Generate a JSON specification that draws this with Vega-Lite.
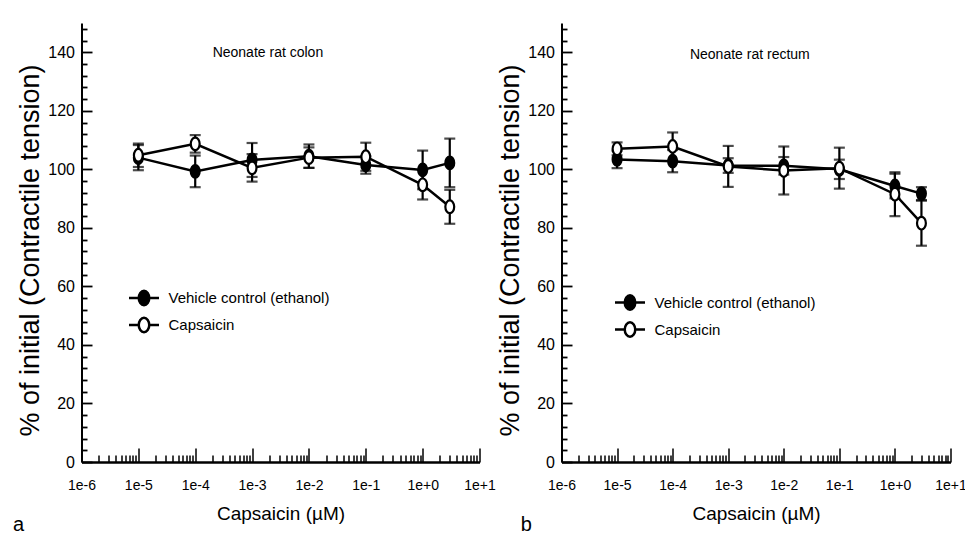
{
  "$schema": "https://vega.github.io/schema/vega-lite/v6.json",
  "background": "white",
  "padding": {"left": 12.5, "top": 20, "right": 5, "bottom": 0},
  "datasets": {
    "colon": [
      {"conc": 1e-5, "series": "Vehicle control (ethanol)", "mean": 104.0, "err": 4.3},
      {"conc": 1e-4, "series": "Vehicle control (ethanol)", "mean": 99.3, "err": 5.4},
      {"conc": 1e-3, "series": "Vehicle control (ethanol)", "mean": 103.2, "err": 5.8},
      {"conc": 1e-2, "series": "Vehicle control (ethanol)", "mean": 104.5, "err": 4.0},
      {"conc": 1e-1, "series": "Vehicle control (ethanol)", "mean": 101.5, "err": 3.0},
      {"conc": 1, "series": "Vehicle control (ethanol)", "mean": 99.8, "err": 6.6},
      {"conc": 3, "series": "Vehicle control (ethanol)", "mean": 102.2, "err": 8.3},
      {"conc": 1e-5, "series": "Capsaicin", "mean": 104.8, "err": 4.0},
      {"conc": 1e-4, "series": "Capsaicin", "mean": 108.7, "err": 3.0},
      {"conc": 1e-3, "series": "Capsaicin", "mean": 100.5, "err": 4.7},
      {"conc": 1e-2, "series": "Capsaicin", "mean": 104.0, "err": 3.5},
      {"conc": 1e-1, "series": "Capsaicin", "mean": 104.3, "err": 4.8},
      {"conc": 1, "series": "Capsaicin", "mean": 94.7, "err": 5.0},
      {"conc": 3, "series": "Capsaicin", "mean": 87.2, "err": 5.8}
    ],
    "rectum": [
      {"conc": 1e-5, "series": "Vehicle control (ethanol)", "mean": 103.4, "err": 3.0},
      {"conc": 1e-4, "series": "Vehicle control (ethanol)", "mean": 102.8, "err": 3.8},
      {"conc": 1e-3, "series": "Vehicle control (ethanol)", "mean": 101.3, "err": 2.5},
      {"conc": 1e-2, "series": "Vehicle control (ethanol)", "mean": 101.2, "err": 3.0},
      {"conc": 1e-1, "series": "Vehicle control (ethanol)", "mean": 100.0, "err": 3.3},
      {"conc": 1, "series": "Vehicle control (ethanol)", "mean": 94.3, "err": 4.2},
      {"conc": 3, "series": "Vehicle control (ethanol)", "mean": 91.7, "err": 2.2},
      {"conc": 1e-5, "series": "Capsaicin", "mean": 107.0, "err": 2.2},
      {"conc": 1e-4, "series": "Capsaicin", "mean": 107.8, "err": 4.8},
      {"conc": 1e-3, "series": "Capsaicin", "mean": 101.0, "err": 7.0},
      {"conc": 1e-2, "series": "Capsaicin", "mean": 99.6, "err": 8.2},
      {"conc": 1e-1, "series": "Capsaicin", "mean": 100.4, "err": 7.0},
      {"conc": 1, "series": "Capsaicin", "mean": 91.5, "err": 7.5},
      {"conc": 3, "series": "Capsaicin", "mean": 81.6, "err": 7.7}
    ],
    "colonLabel": [{"label": "Neonate rat colon"}],
    "rectumLabel": [{"label": "Neonate rat rectum"}]
  },
  "hconcat": [
    {
      "width": 398,
      "height": 439,
      "title": {"text": "a", "orient": "bottom", "anchor": "start", "frame": "group", "dx": -68.5, "offset": 8, "baseline": "alphabetic", "fontSize": 20, "font": "Liberation Sans", "fontWeight": "normal", "color": "black"},
      "data": {"name": "colon"},
      "layer": [
        {
          "encoding": {
            "x": {"field": "conc", "type": "quantitative", "scale": {"type": "log", "domain": [1e-6, 10]},
              "axis": {
                "values": [1e-6,2e-6,3e-6,4e-6,5e-6,6e-6,7e-6,8e-6,9e-6,1e-5,2e-5,3e-5,4e-5,5e-5,6e-5,7e-5,8e-5,9e-5,1e-4,2e-4,3e-4,4e-4,5e-4,6e-4,7e-4,8e-4,9e-4,1e-3,2e-3,3e-3,4e-3,5e-3,6e-3,7e-3,8e-3,9e-3,1e-2,2e-2,3e-2,4e-2,5e-2,6e-2,7e-2,8e-2,9e-2,1e-1,2e-1,3e-1,4e-1,5e-1,6e-1,7e-1,8e-1,9e-1,1,2,3,4,5,6,7,8,9,10],
                "labelExpr": "abs(log(datum.value)/LN10 - round(log(datum.value)/LN10)) < 0.001 ? format(datum.value, '.0e') : ''",
                "tickSize": {"condition": {"test": "abs(log(datum.value)/LN10 - round(log(datum.value)/LN10)) < 0.001", "value": -14}, "value": -7},
                "tickWidth": 1.5, "tickColor": "black",
                "domainWidth": 2.5, "domainColor": "black",
                "labelPadding": 30, "labelFont": "Liberation Sans", "labelFontSize": 14, "labelColor": "black",
                "labelOverlap": false, "labelFlush": false, "grid": false,
                "title": "Capsaicin (µM)", "titleFont": "Liberation Sans", "titleFontSize": 19, "titleFontWeight": "normal", "titleColor": "black", "titlePadding": 5
              }
            },
            "y": {"field": "mean", "type": "quantitative", "scale": {"domain": [0, 150], "nice": false},
              "axis": {
                "values": [0,4,8,12,16,20,24,28,32,36,40,44,48,52,56,60,64,68,72,76,80,84,88,92,96,100,104,108,112,116,120,124,128,132,136,140,144,148],
                "labelExpr": "datum.value % 20 === 0 ? datum.label : ''",
                "tickSize": {"condition": {"test": "datum.value % 20 === 0", "value": -10.5}, "value": -5.5},
                "tickWidth": 1.8, "tickColor": "black",
                "domainWidth": 2, "domainColor": "black",
                "labelPadding": 17.5, "labelFont": "Liberation Sans", "labelFontSize": 16, "labelColor": "black",
                "labelOverlap": false, "grid": false,
                "title": "% of initial (Contractile tension)", "titleFont": "Liberation Sans", "titleFontSize": 27, "titleFontWeight": "normal", "titleColor": "black", "titlePadding": 3, "titleY": 227
              }
            }
          },
          "layer": [
            {
              "mark": {"type": "line", "color": "black", "strokeWidth": 2.5},
              "encoding": {"detail": {"field": "series"}}
            },
            {
              "mark": {"type": "errorbar", "ticks": true, "size": 11, "thickness": 2.2, "color": "black"},
              "encoding": {"yError": {"field": "err"}, "detail": {"field": "series"}}
            },
            {
              "mark": {"type": "point", "filled": true, "shape": "M0,-1A0.7,1 0 1,1 0,1A0.7,1 0 1,1 0,-1Z", "size": 160, "stroke": "black", "strokeWidth": 2.2, "opacity": 1},
              "encoding": {
                "fill": {"field": "series", "type": "nominal",
                  "scale": {"domain": ["Vehicle control (ethanol)", "Capsaicin"], "range": ["black", "white"]},
                  "legend": {"title": null, "orient": "none", "legendX": 46, "legendY": 261.5, "padding": 0,
                    "symbolType": "M-1,0H-0.35M0.35,0H1M0,-0.48A0.35,0.48 0 1,1 0,0.48A0.35,0.48 0 1,1 0,-0.48Z",
                    "symbolSize": 900, "symbolStrokeColor": "black", "symbolStrokeWidth": 2.5,
                    "labelFont": "Liberation Sans", "labelFontSize": 15, "labelColor": "black", "labelOffset": 8, "labelLimit": 300,
                    "clipHeight": 27, "rowPadding": 0}
                }
              }
            }
          ]
        },
        {
          "data": {"name": "colonLabel"},
          "mark": {"type": "text", "font": "Liberation Sans", "fontSize": 14, "color": "black", "align": "center", "baseline": "middle"},
          "encoding": {
            "x": {"datum": 0.0019, "type": "quantitative", "scale": {"type": "log", "domain": [1e-6, 10]},
              "axis": {
                "values": [1e-6,2e-6,3e-6,4e-6,5e-6,6e-6,7e-6,8e-6,9e-6,1e-5,2e-5,3e-5,4e-5,5e-5,6e-5,7e-5,8e-5,9e-5,1e-4,2e-4,3e-4,4e-4,5e-4,6e-4,7e-4,8e-4,9e-4,1e-3,2e-3,3e-3,4e-3,5e-3,6e-3,7e-3,8e-3,9e-3,1e-2,2e-2,3e-2,4e-2,5e-2,6e-2,7e-2,8e-2,9e-2,1e-1,2e-1,3e-1,4e-1,5e-1,6e-1,7e-1,8e-1,9e-1,1,2,3,4,5,6,7,8,9,10],
                "labelExpr": "abs(log(datum.value)/LN10 - round(log(datum.value)/LN10)) < 0.001 ? format(datum.value, '.0e') : ''",
                "tickSize": {"condition": {"test": "abs(log(datum.value)/LN10 - round(log(datum.value)/LN10)) < 0.001", "value": -14}, "value": -7},
                "tickWidth": 1.5, "tickColor": "black",
                "domainWidth": 2.5, "domainColor": "black",
                "labelPadding": 30, "labelFont": "Liberation Sans", "labelFontSize": 14, "labelColor": "black",
                "labelOverlap": false, "labelFlush": false, "grid": false,
                "title": "Capsaicin (µM)", "titleFont": "Liberation Sans", "titleFontSize": 19, "titleFontWeight": "normal", "titleColor": "black", "titlePadding": 5
              }
            },
            "y": {"datum": 139.6, "type": "quantitative", "scale": {"domain": [0, 150], "nice": false},
              "axis": {
                "values": [0,4,8,12,16,20,24,28,32,36,40,44,48,52,56,60,64,68,72,76,80,84,88,92,96,100,104,108,112,116,120,124,128,132,136,140,144,148],
                "labelExpr": "datum.value % 20 === 0 ? datum.label : ''",
                "tickSize": {"condition": {"test": "datum.value % 20 === 0", "value": -10.5}, "value": -5.5},
                "tickWidth": 1.8, "tickColor": "black",
                "domainWidth": 2, "domainColor": "black",
                "labelPadding": 17.5, "labelFont": "Liberation Sans", "labelFontSize": 16, "labelColor": "black",
                "labelOverlap": false, "grid": false,
                "title": "% of initial (Contractile tension)", "titleFont": "Liberation Sans", "titleFontSize": 27, "titleFontWeight": "normal", "titleColor": "black", "titlePadding": 3, "titleY": 227
              }
            },
            "text": {"field": "label"}
          }
        }
      ]
    },
    {
      "width": 389,
      "height": 439,
      "title": {"text": "b", "orient": "bottom", "anchor": "start", "frame": "group", "dx": -40.7, "offset": 8, "baseline": "alphabetic", "fontSize": 20, "font": "Liberation Sans", "fontWeight": "normal", "color": "black"},
      "data": {"name": "rectum"},
      "layer": [
        {
          "encoding": {
            "x": {"field": "conc", "type": "quantitative", "scale": {"type": "log", "domain": [1e-6, 10]},
              "axis": {
                "values": [1e-6,2e-6,3e-6,4e-6,5e-6,6e-6,7e-6,8e-6,9e-6,1e-5,2e-5,3e-5,4e-5,5e-5,6e-5,7e-5,8e-5,9e-5,1e-4,2e-4,3e-4,4e-4,5e-4,6e-4,7e-4,8e-4,9e-4,1e-3,2e-3,3e-3,4e-3,5e-3,6e-3,7e-3,8e-3,9e-3,1e-2,2e-2,3e-2,4e-2,5e-2,6e-2,7e-2,8e-2,9e-2,1e-1,2e-1,3e-1,4e-1,5e-1,6e-1,7e-1,8e-1,9e-1,1,2,3,4,5,6,7,8,9,10],
                "labelExpr": "abs(log(datum.value)/LN10 - round(log(datum.value)/LN10)) < 0.001 ? format(datum.value, '.0e') : ''",
                "tickSize": {"condition": {"test": "abs(log(datum.value)/LN10 - round(log(datum.value)/LN10)) < 0.001", "value": -14}, "value": -7},
                "tickWidth": 1.5, "tickColor": "black",
                "domainWidth": 2.5, "domainColor": "black",
                "labelPadding": 30, "labelFont": "Liberation Sans", "labelFontSize": 14, "labelColor": "black",
                "labelOverlap": false, "labelFlush": false, "grid": false,
                "title": "Capsaicin (µM)", "titleFont": "Liberation Sans", "titleFontSize": 19, "titleFontWeight": "normal", "titleColor": "black", "titlePadding": 5
              }
            },
            "y": {"field": "mean", "type": "quantitative", "scale": {"domain": [0, 150], "nice": false},
              "axis": {
                "values": [0,4,8,12,16,20,24,28,32,36,40,44,48,52,56,60,64,68,72,76,80,84,88,92,96,100,104,108,112,116,120,124,128,132,136,140,144,148],
                "labelExpr": "datum.value % 20 === 0 ? datum.label : ''",
                "tickSize": {"condition": {"test": "datum.value % 20 === 0", "value": -10.5}, "value": -5.5},
                "tickWidth": 1.8, "tickColor": "black",
                "domainWidth": 2, "domainColor": "black",
                "labelPadding": 17.5, "labelFont": "Liberation Sans", "labelFontSize": 16, "labelColor": "black",
                "labelOverlap": false, "grid": false,
                "title": "% of initial (Contractile tension)", "titleFont": "Liberation Sans", "titleFontSize": 27, "titleFontWeight": "normal", "titleColor": "black", "titlePadding": 3, "titleY": 227
              }
            }
          },
          "layer": [
            {
              "mark": {"type": "line", "color": "black", "strokeWidth": 2.5},
              "encoding": {"detail": {"field": "series"}}
            },
            {
              "mark": {"type": "errorbar", "ticks": true, "size": 11, "thickness": 2.2, "color": "black"},
              "encoding": {"yError": {"field": "err"}, "detail": {"field": "series"}}
            },
            {
              "mark": {"type": "point", "filled": true, "shape": "M0,-1A0.7,1 0 1,1 0,1A0.7,1 0 1,1 0,-1Z", "size": 160, "stroke": "black", "strokeWidth": 2.2, "opacity": 1},
              "encoding": {
                "fill": {"field": "series", "type": "nominal",
                  "scale": {"domain": ["Vehicle control (ethanol)", "Capsaicin"], "range": ["black", "white"]},
                  "legend": {"title": null, "orient": "none", "legendX": 52, "legendY": 266, "padding": 0,
                    "symbolType": "M-1,0H-0.35M0.35,0H1M0,-0.48A0.35,0.48 0 1,1 0,0.48A0.35,0.48 0 1,1 0,-0.48Z",
                    "symbolSize": 900, "symbolStrokeColor": "black", "symbolStrokeWidth": 2.5,
                    "labelFont": "Liberation Sans", "labelFontSize": 15, "labelColor": "black", "labelOffset": 8, "labelLimit": 300,
                    "clipHeight": 27, "rowPadding": 0}
                }
              }
            }
          ]
        },
        {
          "data": {"name": "rectumLabel"},
          "mark": {"type": "text", "font": "Liberation Sans", "fontSize": 14, "color": "black", "align": "center", "baseline": "middle"},
          "encoding": {
            "x": {"datum": 0.00245, "type": "quantitative", "scale": {"type": "log", "domain": [1e-6, 10]},
              "axis": {
                "values": [1e-6,2e-6,3e-6,4e-6,5e-6,6e-6,7e-6,8e-6,9e-6,1e-5,2e-5,3e-5,4e-5,5e-5,6e-5,7e-5,8e-5,9e-5,1e-4,2e-4,3e-4,4e-4,5e-4,6e-4,7e-4,8e-4,9e-4,1e-3,2e-3,3e-3,4e-3,5e-3,6e-3,7e-3,8e-3,9e-3,1e-2,2e-2,3e-2,4e-2,5e-2,6e-2,7e-2,8e-2,9e-2,1e-1,2e-1,3e-1,4e-1,5e-1,6e-1,7e-1,8e-1,9e-1,1,2,3,4,5,6,7,8,9,10],
                "labelExpr": "abs(log(datum.value)/LN10 - round(log(datum.value)/LN10)) < 0.001 ? format(datum.value, '.0e') : ''",
                "tickSize": {"condition": {"test": "abs(log(datum.value)/LN10 - round(log(datum.value)/LN10)) < 0.001", "value": -14}, "value": -7},
                "tickWidth": 1.5, "tickColor": "black",
                "domainWidth": 2.5, "domainColor": "black",
                "labelPadding": 30, "labelFont": "Liberation Sans", "labelFontSize": 14, "labelColor": "black",
                "labelOverlap": false, "labelFlush": false, "grid": false,
                "title": "Capsaicin (µM)", "titleFont": "Liberation Sans", "titleFontSize": 19, "titleFontWeight": "normal", "titleColor": "black", "titlePadding": 5
              }
            },
            "y": {"datum": 139, "type": "quantitative", "scale": {"domain": [0, 150], "nice": false},
              "axis": {
                "values": [0,4,8,12,16,20,24,28,32,36,40,44,48,52,56,60,64,68,72,76,80,84,88,92,96,100,104,108,112,116,120,124,128,132,136,140,144,148],
                "labelExpr": "datum.value % 20 === 0 ? datum.label : ''",
                "tickSize": {"condition": {"test": "datum.value % 20 === 0", "value": -10.5}, "value": -5.5},
                "tickWidth": 1.8, "tickColor": "black",
                "domainWidth": 2, "domainColor": "black",
                "labelPadding": 17.5, "labelFont": "Liberation Sans", "labelFontSize": 16, "labelColor": "black",
                "labelOverlap": false, "grid": false,
                "title": "% of initial (Contractile tension)", "titleFont": "Liberation Sans", "titleFontSize": 27, "titleFontWeight": "normal", "titleColor": "black", "titlePadding": 3, "titleY": 227
              }
            },
            "text": {"field": "label"}
          }
        }
      ]
    }
  ],
  "spacing": 82,
  "bounds": "flush",
  "resolve": {"scale": {"fill": "independent", "x": "independent", "y": "independent"}, "legend": {"fill": "independent"}},
  "config": {"view": {"stroke": null}, "font": "Liberation Sans"}
}
